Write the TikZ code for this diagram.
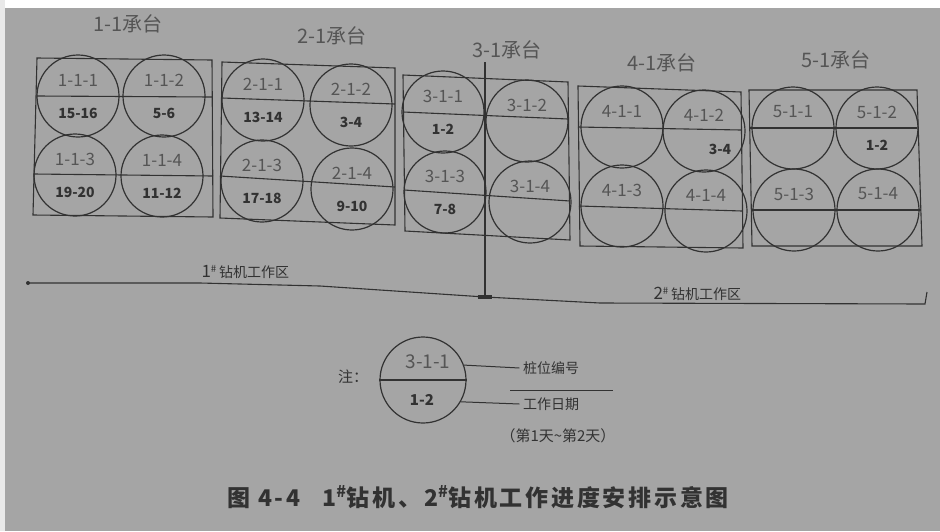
\documentclass[tikz,border=0pt]{standalone}
\usepackage{fontspec}
\setmainfont{Noto Sans CJK SC}
\usetikzlibrary{calc}
\definecolor{paper}{RGB}{165,165,165}
\definecolor{ink}{RGB}{50,50,50}
\definecolor{softink}{RGB}{85,85,85}
\newcommand\drawpile[5]{%
  \node[pile] (#1) at (#2,#3) {};
  \node[idlab] (#1-id) at ([yshift=16pt]#1.center) {#4};
  \node[daylab] (#1-day) at ([yshift=-17pt]#1.center) {#5};}
\begin{document}
\begin{tikzpicture}[x=1pt,y=-1pt,
  pile/.style={circle,draw=ink,line width=1.2pt,minimum size=82pt,inner sep=0pt},
  idlab/.style={text=softink,font=\fontsize{17}{17}\selectfont},
  daylab/.style={text=ink,font=\bfseries\fontsize{14}{14}\selectfont},
  frame/.style={draw=ink,line width=1.1pt},
  capname/.style={text=softink,font=\fontsize{20}{20}\selectfont},
  worklab/.style={text=ink,font=\fontsize{14}{14}\selectfont,anchor=west}]
% background
\fill[paper] (0,0) rectangle (940,531);
\fill[white] (0,0) rectangle (940,8);
\fill[white!75!paper] (0,0) rectangle (5,531);
\useasboundingbox (0,0) rectangle (940,531);

% group labels
\node[capname] (c1) at (128,24) {1-1承台};
\node[capname] (c2) at (332,36) {2-1承台};
\node[capname] (c3) at (507,50) {3-1承台};
\node[capname] (c4) at (662,63) {4-1承台};
\node[capname] (c5) at (836,60) {5-1承台};

% frames and row lines
\draw[frame] (37,58) -- (212,60) -- (213,217) -- (33,215) -- cycle;
\draw[frame] (37,96) -- (212,97);
\draw[frame] (34,174) -- (213,176);
\draw[frame] (222,62) -- (395,68) -- (395,225) -- (220,218) -- cycle;
\draw[frame] (222,98) -- (395,104);
\draw[frame] (220,176) -- (395,187);
\draw[frame] (403,75) -- (568,82) -- (570,240) -- (405,231) -- cycle;
\draw[frame] (403,112) -- (568,119);
\draw[frame] (404,190) -- (570,201);
\draw[frame] (578,86) -- (741,92) -- (743,248) -- (580,246) -- cycle;
\draw[frame] (578,127) -- (741,130);
\draw[frame] (579,206) -- (742,211);
\draw[frame] (749,90) -- (917,90) -- (922,246) -- (752,246) -- cycle;
\draw[frame] (749,128) -- (917,128);
\draw[frame] (751,210) -- (921,210);

% piles
\drawpile{p111}{78}{96}{1-1-1}{15-16}
\drawpile{p112}{164}{96}{1-1-2}{5-6}
\drawpile{p113}{75}{175}{1-1-3}{19-20}
\drawpile{p114}{162}{176}{1-1-4}{11-12}
\drawpile{p211}{263}{100}{2-1-1}{13-14}
\drawpile{p212}{351}{105}{2-1-2}{3-4}
\drawpile{p213}{262}{181}{2-1-3}{17-18}
\drawpile{p214}{352}{189}{2-1-4}{9-10}
\drawpile{p311}{443}{112}{3-1-1}{1-2}
\drawpile{p312}{527}{121}{3-1-2}{}
\drawpile{p313}{445}{192}{3-1-3}{7-8}
\drawpile{p314}{530}{202}{3-1-4}{}
\drawpile{p411}{622}{127}{4-1-1}{}
\drawpile{p412}{704}{131}{4-1-2}{}
\drawpile{p413}{622}{206}{4-1-3}{}
\drawpile{p414}{706}{211}{4-1-4}{}
\drawpile{p511}{793}{128}{5-1-1}{}
\drawpile{p512}{877}{128}{5-1-2}{1-2}
\drawpile{p513}{794}{210}{5-1-3}{}
\drawpile{p514}{878}{210}{5-1-4}{}
\node[daylab] (p412-d) at (720,149) {3-4};

% divider and work zones
\coordinate (vtop) at (485,62);
\coordinate (mid) at (485,297);
\coordinate (lend) at (28,283);
\coordinate (rend) at (925,304);
\coordinate (rtick) at (927,292);
\draw[ink,line width=1.1pt] (vtop) -- (mid);
\draw[ink,line width=1.1pt] (lend) -- (200,283) -- (320,286) -- (mid) -- (600,303) -- (rend) -- (rtick);
\fill[ink] (lend) circle (2pt);
\fill[ink] (478,295) rectangle (492,299);
\node[worklab] (w1) at (198,272) {{\fontsize{17}{17}\selectfont 1}\textsuperscript{\#}\,钻机工作区};
\node[worklab] (w2) at (650,294) {{\fontsize{17}{17}\selectfont 2}\textsuperscript{\#}\,钻机工作区};

% legend
\node[text=ink,font=\fontsize{15}{15}\selectfont] (note) at (353,377) {注：};
\node[pile,minimum size=86pt] (leg) at (423,380) {};
\draw[frame] (leg.west) -- (leg.east);
\node[idlab,font=\fontsize{19}{19}\selectfont] (leg-id) at (428,362) {3-1-1};
\node[daylab,font=\bfseries\fontsize{15}{15}\selectfont] (leg-day) at (422,400) {1-2};
\node[text=ink,font=\fontsize{14}{14}\selectfont] (t1) at (551,368) {桩位编号};
\node[text=ink,font=\fontsize{14}{14}\selectfont] (t2) at (551,404) {工作日期};
\node[text=ink,font=\fontsize{15}{15}\selectfont] (t3) at (558,436) {（第1天\textasciitilde 第2天）};
\draw[ink,line width=1pt] (leg.20) -- (t1.west);
\draw[ink,line width=1pt] (leg.-30) -- (t2.west);
\draw[ink,line width=1pt] (510,390) -- (613,390);

% caption
\node[text=ink,font=\bfseries\fontsize{23}{23}\selectfont\addfontfeature{LetterSpace=12}] (cap) at (478,497)
  {图 4-4\hspace{22pt}1\textsuperscript{\#}钻机、2\textsuperscript{\#}钻机工作进度安排示意图};
\end{tikzpicture}
\end{document}
